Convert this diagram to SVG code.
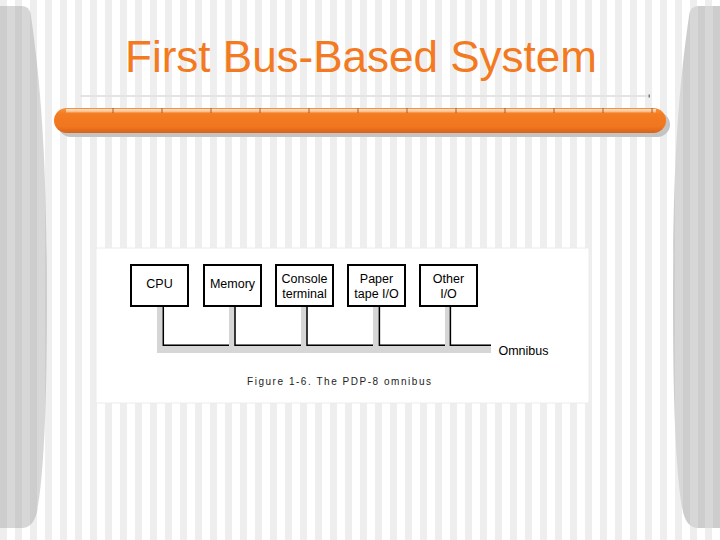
<svg xmlns="http://www.w3.org/2000/svg" width="720" height="540" viewBox="0 0 720 540">
<style>
.title{font-family:"Liberation Sans",Arial,sans-serif;font-size:44px;fill:#f37a21}
.lbl{font-family:"Liberation Sans",Arial,sans-serif;font-size:12.5px;fill:#000;text-anchor:middle}
.box{fill:#fff;stroke:#000;stroke-width:2}
.cap{font-family:"Liberation Sans",Arial,sans-serif;font-size:10px;fill:#222}
.tick{stroke:#a85a22;stroke-width:1}
</style>
<defs>
<pattern id="stripes" x="0" y="0" width="15" height="20" patternUnits="userSpaceOnUse">
<rect x="0" y="0" width="7" height="20" fill="#eeeeee"/>
</pattern>
<pattern id="stripes2" x="0" y="0" width="15" height="20" patternUnits="userSpaceOnUse">
<rect x="0" y="0" width="15" height="20" fill="#d7d7d7"/>
<rect x="0" y="0" width="7" height="20" fill="#cdcdcd"/>
</pattern>
<linearGradient id="orange" x1="0" y1="0" x2="0" y2="1">
<stop offset="0" stop-color="#f6923f"/>
<stop offset="0.25" stop-color="#f47b20"/>
<stop offset="0.75" stop-color="#f07620"/>
<stop offset="1" stop-color="#d9621a"/>
</linearGradient>
<linearGradient id="hl" x1="0" y1="0" x2="0" y2="1">
<stop offset="0" stop-color="#fde3cc"/>
<stop offset="1" stop-color="#f8b07a"/>
</linearGradient>
<path id="side" d="M0,6 H22 Q30,6 31,16 C40,80 47,150 47,300 C47,420 43,480 37,512 Q33,528 22,528 H0 Z"/>
</defs>
<rect width="720" height="540" fill="#fff"/>
<rect width="720" height="540" fill="url(#stripes)"/>
<g id="side-left">
<use href="#side" fill="url(#stripes2)"/>
</g>
<g id="side-right" transform="translate(720,0) scale(-1,1)">
<use href="#side" fill="url(#stripes2)"/>
</g>
<text class="title" x="361" y="72" text-anchor="middle">First Bus-Based System</text>
<line x1="80" y1="96" x2="648" y2="96" stroke="#e4e4e4" stroke-width="2"/>
<rect x="648.5" y="94.5" width="1.5" height="3" fill="#777"/>
<g id="orange-bar">
<rect x="58" y="112" width="612" height="25" rx="12.5" fill="#c4c4c4"/>
<rect x="54" y="108" width="612" height="25" rx="12.5" fill="url(#orange)"/>
<rect x="66" y="109" width="590" height="3.5" fill="url(#hl)"/>
<line class="tick" x1="113" y1="108" x2="113" y2="113"/>
<line class="tick" x1="162" y1="108" x2="162" y2="113"/>
<line class="tick" x1="211" y1="108" x2="211" y2="113"/>
<line class="tick" x1="260" y1="108" x2="260" y2="113"/>
<line class="tick" x1="309" y1="108" x2="309" y2="113"/>
<line class="tick" x1="358" y1="108" x2="358" y2="113"/>
<line class="tick" x1="407" y1="108" x2="407" y2="113"/>
<line class="tick" x1="456" y1="108" x2="456" y2="113"/>
<line class="tick" x1="505" y1="108" x2="505" y2="113"/>
<line class="tick" x1="554" y1="108" x2="554" y2="113"/>
<line class="tick" x1="603" y1="108" x2="603" y2="113"/>
<line class="tick" x1="652" y1="108" x2="652" y2="113"/>
</g>
<rect x="96" y="248" width="493" height="155" fill="#fff" stroke="#ececec" stroke-width="1"/>
<g id="connectors">
<path d="M157,306 V353 H491 V344.5 H451 V306 H445 V344.5 H380 V306 H373 V344.5 H307.5 V306 H301 V344.5 H235.5 V306 H229 V344.5 H164 V306 Z" fill="#d6d6d6"/>
<path d="M163.3,306 V345.2 H229 M235,306 V345.2 H301 M307,306 V345.2 H373 M379.4,306 V345.2 H445 M450.4,306 V345.2 H491" fill="none" stroke="#000" stroke-width="1.5"/>
</g>
<g id="cpu">
<rect class="box" x="131" y="265" width="57" height="41"/>
<text class="lbl" x="159.5" y="288">CPU</text>
</g>
<g id="memory">
<rect class="box" x="204" y="265" width="57" height="41"/>
<text class="lbl" x="232.5" y="288">Memory</text>
</g>
<g id="console">
<rect class="box" x="276" y="265" width="57" height="41"/>
<text class="lbl" x="304.5" y="283">Console</text>
<text class="lbl" x="304.5" y="298">terminal</text>
</g>
<g id="paper">
<rect class="box" x="348" y="265" width="57" height="41"/>
<text class="lbl" x="376.5" y="283">Paper</text>
<text class="lbl" x="376.5" y="298">tape I/O</text>
</g>
<g id="other">
<rect class="box" x="420" y="265" width="57" height="41"/>
<text class="lbl" x="448.5" y="283">Other</text>
<text class="lbl" x="448.5" y="298">I/O</text>
</g>
<text class="lbl" x="523.5" y="355">Omnibus</text>
<text class="cap" x="247" y="385" textLength="184" lengthAdjust="spacing">Figure 1-6. The PDP-8 omnibus</text>
</svg>
